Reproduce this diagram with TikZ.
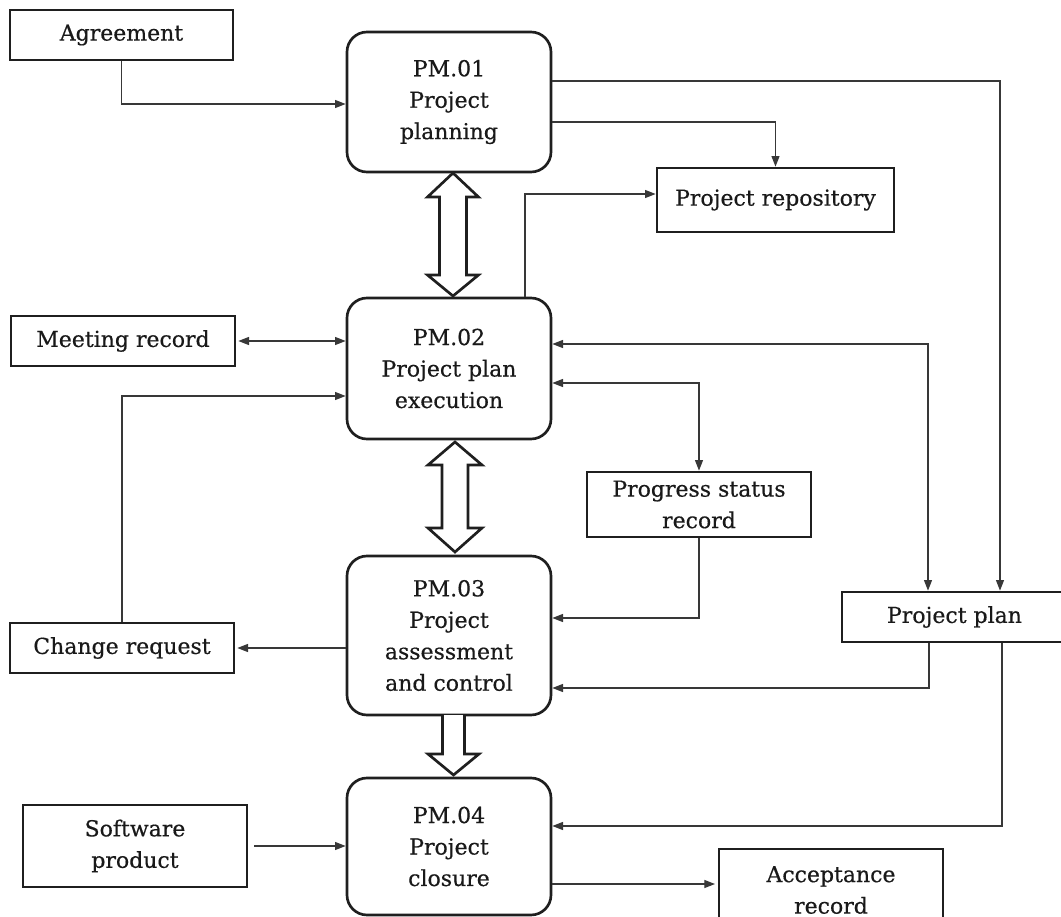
\documentclass[tikz,border=0pt]{standalone}
\usepackage{fontspec}
\setmainfont{DejaVu Serif}[UprightFeatures={FakeBold=0.5}]
\usetikzlibrary{arrows.meta}
\begin{document}
\begin{tikzpicture}[x=0.75pt,y=-0.75pt,
  >={Triangle[length=8pt,width=6pt]},
  every node/.style={font=\fontsize{16.5pt}{23.6pt}\selectfont, text=black!90, align=center, inner sep=0pt},
  box/.style n args={2}{draw=black!88, line width=2pt, minimum width=#1*0.75pt, minimum height=#2*0.75pt},
  proc/.style n args={2}{box={#1}{#2}, rounded corners=15pt},
  conn/.style={draw=black!78, line width=0.95pt, ->},
  biconn/.style={draw=black!78, line width=0.95pt, <->},
  big/.style={draw=black!88, line width=2pt, fill=white, line join=miter}
]
\useasboundingbox (0,0) rectangle (1061,917);

% process nodes
\node[proc={204}{140}] (pm1) at (449,102) {PM.01\\Project\\planning};
\node[proc={204}{141}] (pm2) at (449,368.5) {PM.02\\Project plan\\execution};
\node[proc={204}{159}] (pm3) at (449,635.5) {PM.03\\Project\\assessment\\and control};
\node[proc={204}{137}] (pm4) at (449,846.5) {PM.04\\Project\\closure};

% data boxes
\node[box={223}{50}] (agree) at (121.5,35) {Agreement};
\node[box={237}{64}] (repo) at (775.5,200) {Project repository};
\node[box={224}{50}] (meet) at (123,341) {Meeting record};
\node[box={224}{65}] (prog) at (699,504.5) {Progress status\\record};
\node[box={224}{50}] (cr) at (122,648) {Change request};
\node[box={225}{50}] (plan) at (954.5,617) {Project plan};
\node[box={224}{82}] (sw) at (135,846) {Software\\product};
\node[box={224}{82}] (acc) at (831,890) {Acceptance\\record};

% big hollow arrows
\draw[big] (453,173) -- (478.5,197) -- (466.5,197) -- (466.5,275) -- (478.5,275) -- (453,296)
  -- (427.5,275) -- (439.5,275) -- (439.5,197) -- (427.5,197) -- cycle;
\draw[big] (455,442) -- (482,465) -- (468,465) -- (468,528) -- (482,528) -- (455,552)
  -- (428,528) -- (442,528) -- (442,465) -- (428,465) -- cycle;
\draw[big] (442.5,715) -- (442.5,754) -- (428,754) -- (453.5,775) -- (479,754) -- (464.5,754) -- (464.5,715);

% connectors
\draw[conn] (agree.south) |- (pm1.west |- 0,104);
\draw[conn] (pm1.east |- 0,81) -| (1000,0 |- plan.north);
\draw[conn] (pm1.east |- 0,122) -| (repo.north);
\draw[conn] (525,0 |- pm2.north) |- (repo.west |- 0,194);
\draw[biconn] ([xshift=1.5pt]meet.east) -- (pm2.west |- meet.east);
\draw[conn] (cr.north) |- (pm2.west |- 0,396);
\draw[biconn] (pm2.east |- 0,344) -| (928,0 |- plan.north);
\draw[biconn] (pm2.east |- 0,383) -| (prog.north);
\draw[conn] (prog.south) |- (pm3.east |- 0,618);
\draw[conn] (929,0 |- plan.south) |- (pm3.east |- 0,688);
\draw[conn] (1002,0 |- plan.south) |- (pm4.east |- 0,826);
\draw[conn] (pm3.west |- cr.east) -- ([xshift=1.5pt]cr.east);
\draw[conn] ([xshift=4.5pt]sw.east) -- (pm4.west |- sw.east);
\draw[conn] (pm4.east |- 0,884) -- ([xshift=-2pt]acc.west |- 0,884);
\end{tikzpicture}
\end{document}
